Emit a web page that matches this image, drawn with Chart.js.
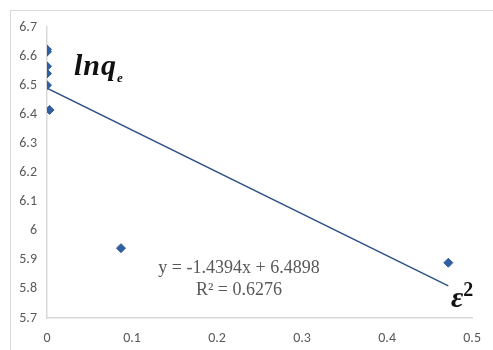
<!DOCTYPE html>
<html>
<head>
<meta charset="utf-8">
<script src="https://cdn.jsdelivr.net/npm/chart.js@4/dist/chart.umd.min.js"></script>
<style>
    body { margin: 0; background: #fff; }
    #wrap { position: relative; width: 493px; height: 350px; overflow: hidden; }
    #frame { position: absolute; left: 10px; top: 10px; width: 500px; height: 360px; border: 1px solid #d9d9d9; box-sizing: border-box; }
    canvas { position: absolute; left: 0; top: 0; }
    .note { position: absolute; white-space: nowrap; }
    #eq { left: 156px; top: 256px; font: 18px "Liberation Serif", serif; color: #595959; text-align: center; line-height: 22px; width: 166px; }
    #lnq { left: 74px; top: 48px; font: bold italic 30px "Liberation Serif", serif; color: #111; letter-spacing: 1px; }
    #lnq sub { font-size: 13px; }
    #eps { left: 451px; top: 278px; font: bold italic 30px "Liberation Serif", serif; color: #111; }
    #eps sup { font-size: 20px; font-style: normal; }
</style>
</head>
<body>
<div id="wrap">
    <div id="frame"></div>
    <canvas id="chartCanvas" width="493" height="350"></canvas>
    <div class="note" id="lnq">lnq<sub>e</sub></div>
    <div class="note" id="eq">y = -1.4394x + 6.4898<br>R² = 0.6276</div>
    <div class="note" id="eps">ε<sup>2</sup></div>
</div>
<script>
// epsilon squared vs ln qe
const xValues = [0.0, 0.0, 0.0, 0.0, 0.0, 0.003, 0.087, 0.472];
const yValues = [6.623, 6.615, 6.565, 6.54, 6.50, 6.415, 5.94, 5.89];

// linear fit shown on the chart
const slope = -1.4394;
const intercept = 6.4898;
const fitX = [0, 0.472];

const xTicks = [0, 0.1, 0.2, 0.3, 0.4, 0.5];
const yTicks = [5.7, 5.8, 5.9, 6, 6.1, 6.2, 6.3, 6.4, 6.5, 6.6, 6.7];

const points = xValues.map((x, i) => ({ x: x, y: yValues[i] }));
const fitLine = fitX.map(x => ({ x: x, y: slope * x + intercept }));

const tickFont = { family: 'Calibri, Carlito, "Open Sans", "Liberation Sans", sans-serif', size: 14 };

new Chart(document.getElementById('chartCanvas'), {
    type: 'scatter',
    data: {
        datasets: [{
            data: points,
            pointStyle: 'rectRot',
            pointRadius: 4.5,
            backgroundColor: '#2f5f9e',
            borderColor: '#2f5f9e',
            borderWidth: 1,
            order: 1
        }, {
            type: 'line',
            data: fitLine,
            borderColor: '#2f5286',
            borderWidth: 1.5,
            pointRadius: 0,
            fill: false,
            order: 2
        }]
    },
    options: {
        responsive: false,
        animation: false,
        layout: { padding: { top: 27, right: 12, left: 0, bottom: 0 } },
        plugins: { legend: { display: false }, tooltip: { enabled: false } },
        scales: {
            x: {
                type: 'linear',
                min: 0, max: 0.5,
                afterBuildTicks: s => { s.ticks = xTicks.map(v => ({ value: v })); },
                afterFit: s => { s.height = 32; },
                grid: { display: false, drawTicks: false },
                border: { color: '#d9d9d9', width: 1.5 },
                ticks: { color: '#595959', font: tickFont, padding: 12, maxRotation: 0, callback: v => String(v) }
            },
            y: {
                type: 'linear',
                min: 5.7, max: 6.7,
                afterBuildTicks: s => { s.ticks = yTicks.map(v => ({ value: v })); },
                afterFit: s => { s.width = 47; },
                grid: { display: false, drawTicks: false },
                border: { color: '#d9d9d9', width: 1.5 },
                ticks: { color: '#595959', font: tickFont, padding: 10, callback: v => String(v) }
            }
        }
    }
});
</script>
</body>
</html>
